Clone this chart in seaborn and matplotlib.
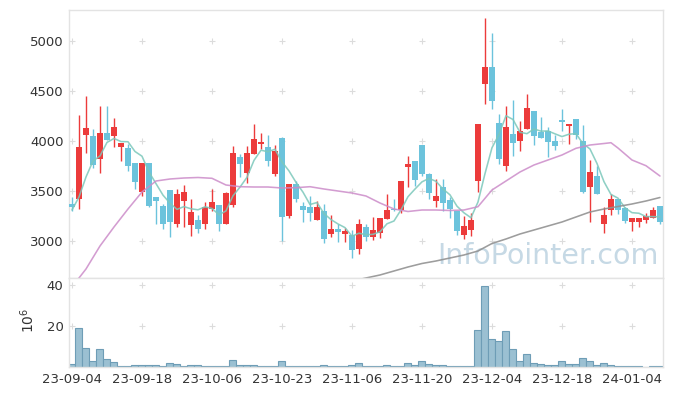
import matplotlib
matplotlib.use('Agg')

import numpy as np
import pandas as pd
import matplotlib.pyplot as plt
import seaborn as sns

# trading days (KRX), holidays removed
holidays = ['2023-09-28', '2023-09-29', '2023-10-02', '2023-10-03',
            '2023-10-09', '2023-12-25', '2023-12-29', '2024-01-01']
dates = pd.bdate_range('2023-09-04', '2024-01-10')
dates = dates[~dates.isin(pd.to_datetime(holidays))]

opens = [3370, 3417, 4063, 4050, 3823, 4080, 4053, 3943, 3933, 3777,
         3493, 3777, 3437, 3350, 3510, 3173, 3403, 3160, 3210, 3173,
         3320, 3360, 3173, 3363, 3840, 3680, 3873, 3970, 3943, 3670,
         4030, 3253, 3570, 3350, 3340, 3213, 3300, 3073, 3120, 3073,
         3060, 2923, 3137, 3043, 3077, 3223, 3320, 3310, 3737, 3800,
         3960, 3670, 3403, 3540, 3410, 3300, 3060, 3110, 3597, 4573,
         4737, 4180, 3750, 4070, 4003, 4117, 4300, 4090, 4103, 4000,
         4210, 4153, 4220, 4000, 3543, 3650, 3173, 3313, 3423, 3330,
         3190, 3190, 3210, 3230, 3350]
highs = [3437, 4257, 4450, 4117, 4347, 4347, 4227, 3980, 3973, 3777,
         3777, 3777, 3437, 3370, 3510, 3517, 3557, 3417, 3263, 3393,
         3517, 3360, 3493, 3950, 3873, 3947, 4170, 4077, 4057, 3957,
         4040, 3570, 3603, 3387, 3447, 3403, 3367, 3263, 3170, 3130,
         3110, 3217, 3170, 3243, 3227, 3470, 3417, 3597, 3850, 3800,
         3960, 3683, 3617, 3617, 3443, 3300, 3253, 3283, 4167, 5227,
         5077, 4273, 4350, 4410, 4197, 4467, 4300, 4243, 4143, 4060,
         4320, 4170, 4220, 4160, 3810, 3750, 3343, 3470, 3423, 3343,
         3227, 3227, 3283, 3337, 3350]
lows = [3300, 3323, 3883, 3730, 3683, 4010, 3937, 3803, 3703, 3517,
        3450, 3337, 3167, 3117, 3037, 3143, 3137, 3050, 3077, 3123,
        3303, 3097, 3173, 3337, 3637, 3577, 3873, 3917, 3747, 3650,
        2997, 3227, 3393, 3187, 3197, 3213, 2977, 3043, 2987, 2987,
        2827, 2867, 3000, 3010, 3033, 3223, 3300, 3283, 3537, 3550,
        3650, 3420, 3337, 3303, 3227, 3060, 3017, 3050, 3490, 4373,
        4317, 3770, 3700, 3850, 3903, 4117, 3960, 4030, 3840, 3910,
        4103, 3967, 4017, 3483, 3193, 3470, 3077, 3257, 3270, 3177,
        3097, 3137, 3177, 3230, 3170]
closes = [3337, 3943, 4133, 3760, 4080, 4013, 4140, 3980, 3750, 3593,
          3777, 3350, 3400, 3173, 3190, 3470, 3487, 3290, 3123, 3340,
          3387, 3173, 3480, 3880, 3773, 3877, 4020, 3990, 3803, 3900,
          3243, 3570, 3420, 3310, 3283, 3340, 3020, 3120, 3090, 3100,
          2910, 3170, 3043, 3110, 3227, 3310, 3310, 3597, 3770, 3610,
          3670, 3483, 3453, 3383, 3320, 3103, 3150, 3207, 4167, 4737,
          4400, 3817, 4140, 3983, 4097, 4330, 4053, 4030, 3993, 3953,
          4193, 4170, 4060, 3493, 3687, 3470, 3257, 3420, 3310, 3203,
          3227, 3227, 3253, 3310, 3190]
# volume in millions
volume = [1.3, 18.9, 9.1, 2.9, 8.6, 3.8, 2.3, 0.6, 0.6, 1.1,
          1.1, 1.1, 1.1, 0.7, 2.2, 1.6, 0.7, 1.1, 0.8, 0.7,
          0.3, 0.3, 0.7, 3.2, 1.1, 1.1, 1.1, 0.3, 0.7, 0.7,
          2.7, 0.7, 0.3, 0.3, 0.3, 0.3, 1.1, 0.4, 0.3, 0.3,
          1.1, 2.1, 0.7, 0.3, 0.3, 1.1, 0.3, 0.7, 2.1, 1.1,
          3.1, 1.6, 1.1, 1.1, 0.6, 0.6, 0.6, 0.6, 17.9, 39.4,
          13.5, 12.6, 17.4, 8.6, 2.7, 6.2, 2.2, 1.6, 1.1, 1.1,
          3.1, 1.6, 1.6, 4.2, 2.7, 1.1, 2.1, 1.1, 0.3, 0.3,
          0.3, 0.3, 0.0, 0.3, 0.3]

# first 5-day MA values (need closes before the window)
ma5_head = [3310, 3440, 3640, 3800]
# 20-day and 60-day MA
ma20_idx = [0, 1, 2, 4, 6, 8, 10, 12, 14, 16, 18, 20, 22, 24, 26, 28, 30,
            32, 34, 36, 38, 40, 42, 44, 46, 48, 50, 52, 54, 56, 58, 60, 62,
            64, 66, 68, 70, 72, 74, 76, 77, 78, 80, 82, 84]
ma20 = [2550, 2630, 2720, 2950, 3140, 3320, 3490, 3600, 3620, 3630, 3635,
        3627, 3560, 3543, 3540, 3540, 3530, 3533, 3543, 3520, 3500, 3480,
        3450, 3380, 3320, 3295, 3310, 3310, 3305, 3310, 3343, 3510, 3600,
        3690, 3760, 3810, 3860, 3927, 3960, 3975, 3983, 3930, 3810, 3753,
        3650]
ma60_idx = [40, 42, 44, 46, 48, 50, 52, 54, 56, 58, 60, 62, 64, 66, 68, 70,
            72, 74, 76, 78, 80, 82, 84]
ma60 = [2600, 2630, 2660, 2700, 2740, 2775, 2800, 2830, 2860, 2900, 2975,
        3020, 3070, 3110, 3150, 3190, 3240, 3290, 3320, 3345, 3370, 3400,
        3435]

UP, DOWN = '#ec3b3b', '#6cc3dc'
GRID = '#dcdcdc'
TXT = '#333333'

sns.set_theme(style='white')
plt.rcParams['font.family'] = ['DejaVu Sans']

fig = plt.figure(figsize=(6.73, 3.96), dpi=100)
ax = fig.add_axes([0.1025, 0.298, 0.8826, 0.6767])
axv = fig.add_axes([0.1025, 0.0732, 0.8826, 0.2247], sharex=ax)

idx = np.arange(len(dates))
o = np.array(opens)
c = np.array(closes)
up = c >= o
cols = np.where(up, UP, DOWN)

# candles
ax.vlines(idx, lows, highs, colors=cols, lw=1.0, zorder=2)
body = np.maximum(np.abs(c - o), 12)
ax.bar(idx, body, bottom=np.minimum(o, c), width=0.76, color=cols,
       linewidth=0, zorder=3)

# moving averages
ma5 = pd.Series(closes).rolling(5).mean()
ma5.iloc[:4] = ma5_head
sns.lineplot(x=idx, y=ma5.values, ax=ax, color='#7cc8bb', lw=1.15, alpha=0.85, zorder=4)
sns.lineplot(x=ma20_idx, y=ma20, ax=ax, color='#cc8cc9', lw=1.15, alpha=0.85, zorder=4)
sns.lineplot(x=ma60_idx, y=ma60, ax=ax, color='#929292', lw=1.15, alpha=0.9, zorder=4)

ax.set_xlim(-0.43, len(dates) - 1 + 0.43)
ax.set_ylim(2630, 5310)
yt = [3000, 3500, 4000, 4500, 5000]
ax.set_yticks(yt)
xt = list(range(0, len(dates), 10))

# "+" grid marks
gx, gy = np.meshgrid(xt, yt)
ax.scatter(gx.ravel(), gy.ravel(), marker='+', s=18, color=GRID, lw=0.8, zorder=1)

ax.text(0.807, 0.083, 'InfoPointer.com', transform=ax.transAxes,
        fontsize=20.5, color='#c6d9e5', ha='center', va='center', zorder=0)

# volume
sns.barplot(x=idx, y=volume, ax=axv, native_scale=True, width=1.0,
            color='#9bc0d2', saturation=1, edgecolor='#6e9db6', linewidth=0.8)
axv.set_ylim(0, 43.4)
axv.set_yticks([20, 40])
gx, gy = np.meshgrid(xt, [20, 40])
axv.scatter(gx.ravel(), gy.ravel(), marker='+', s=18, color=GRID, lw=0.8, zorder=0)
axv.set_xticks(xt)
axv.set_xticklabels([dates[i].strftime('%y-%m-%d') for i in xt])
axv.set_xlim(-0.43, len(dates) - 1 + 0.43)
axv.set_ylabel(r'$10^6$', color=TXT, fontsize=10)
axv.yaxis.set_label_coords(-0.054, 0.52)

for a in (ax, axv):
    a.tick_params(length=0, labelsize=9.5, colors=TXT)
    a.tick_params(axis='y', pad=4)
    a.tick_params(axis='x', pad=4)
    for s in a.spines.values():
        s.set_color('#e3e3e3')
        s.set_linewidth(1)
plt.setp(ax.get_xticklabels(), visible=False)

fig.savefig('out.png', dpi=100, facecolor='white')
